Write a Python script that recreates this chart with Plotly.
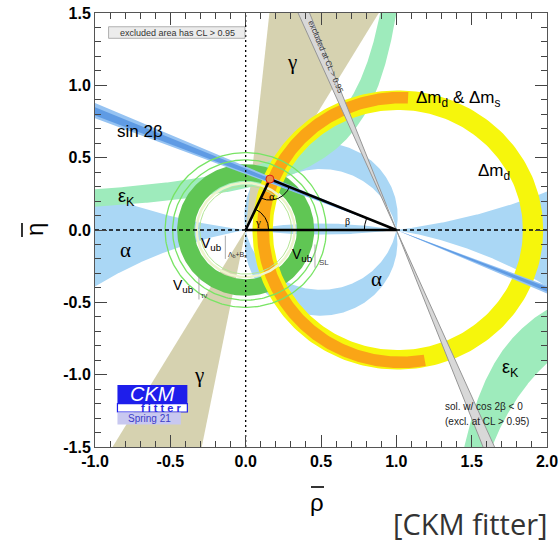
import numpy as np
import plotly.graph_objects as go

# ---------------- data ----------------
apex = [0.161, 0.352]                       # best-fit (rho, eta)
gamma_upper_deg = [59.5, 84.0]              # gamma wedge (upper solution)
gamma_lower_deg = [59.5, 79.0]              # gamma wedge (mirror solution)
sin2beta_outer_deg = [21.1, 23.7]           # beta band (light)
sin2beta_core_deg = [21.6, 23.0]            # beta band (core)
cos2beta_neg_deg = [66.5, 69.0]             # excluded cos2beta<0 solution
alpha_crescent_c = [0.095, -0.085]          # eta of circle centres (rho=0.5)
alpha_wedge_c = [3.9, -2.76]                # eta of circle centres (rho=0.5)
dmd_center = [1.01, 0.0]
dmd_radii = [0.83, 0.965]
dmds_center = [1.03, 0.0]
dmds_radii = [0.875, 0.955]
dmds_span_deg = [87.0, 280.0]
vub_radii = [0.34, 0.455]
vub_taunu_radii = [0.485, 0.535]
vub_lb_radii = [0.305, 0.325]
# eps_K hyperbola edges: eta = b + k/(a - rho)   (a, k, b)
epsk_upper_inner = [1.239, 0.358, 0.0]
epsk_upper_outer = [1.157, 0.367, 0.11]
epsk_lower_inner = [1.133, 0.4768, 0.0]
epsk_lower_outer = [1.0525, 0.872, 0.0]

x_tick_vals = [-1.0, -0.5, 0.0, 0.5, 1.0, 1.5, 2.0]
x_tick_text = ["-1.0", "-0.5", "0.0", "0.5", "1.0", "1.5", "2.0"]
y_tick_vals = [-1.5, -1.0, -0.5, 0.0, 0.5, 1.0, 1.5]
y_tick_text = ["-1.5", "-1.0", "-0.5", "0.0", "0.5", "1.0", "1.5"]

# ---------------- colours ----------------
C_ALPHA = "rgb(170,215,245)"
C_GAMMA = "rgb(214,210,176)"
C_EPSK = "rgb(158,235,188)"
C_VUB = "rgb(96,198,84)"
C_VUBLINE = "rgb(120,228,100)"
C_YELLOW = "rgb(246,246,12)"
C_ORANGE = "rgb(250,165,22)"
C_B_LIGHT = "rgb(150,195,242)"
C_B_CORE = "rgb(95,155,228)"
C_GRAY = "rgb(216,216,216)"
C_GRAYLINE = "rgb(150,150,150)"

# body margin is removed by a post-script, so the figure fills the window
OFF = 0
W, H = 558, 545
ML, MR, MT, MB = 95, 11, 13, 98
PW, PH = W - ML - MR, H - MT - MB
SX = PW / 3.0
SY = PH / 3.0


def px(xs):
    return (xs - OFF - ML) / PW


def py(ys):
    return (H - MB - (ys - OFF)) / PH


fig = go.Figure()


def arc(cx, cy, r, a0, a1, n=240):
    t = np.radians(np.linspace(a0, a1, n))
    return cx + r * np.cos(t), cy + r * np.sin(t)


def poly(x, y, color):
    fig.add_trace(go.Scatter(x=list(x), y=list(y), mode="lines", fill="toself",
                             fillcolor=color, line=dict(width=0),
                             hoverinfo="skip", showlegend=False))


def annulus(cx, cy, r0, r1, a0=0.0, a1=360.0):
    xo, yo = arc(cx, cy, r1, a0, a1)
    xi, yi = arc(cx, cy, r0, a1, a0)
    return np.concatenate([xo, xi]), np.concatenate([yo, yi])


def circ(c):
    r = np.hypot(0.5, c)
    phi = np.degrees(np.arctan2(-c, 0.5))
    return r, phi


# ---- alpha: wedges + sliver (between two large circles) ----
cA, cB = alpha_wedge_c
rA, rB = np.hypot(0.5, cA), np.hypot(0.5, cB)
rho = np.linspace(-1.1, 2.1, 600)
etaA = cA - np.sqrt(rA ** 2 - (rho - 0.5) ** 2)
etaB = cB + np.sqrt(rB ** 2 - (rho - 0.5) ** 2)
poly(np.concatenate([rho, rho[::-1]]), np.concatenate([etaA, etaB[::-1]]), C_ALPHA)

# ---- alpha: crescents around the unitarity semicircle ----
c1, c2 = alpha_crescent_c
r1, p1 = circ(c1)
r2, p2 = circ(c2)
xo, yo = arc(0.5, c1, r1, p1, 180 - p1)
xi, yi = arc(0.5, c2, r2, 180 - p2, p2)
poly(np.concatenate([xo, xi]), np.concatenate([yo, yi]), C_ALPHA)
xo, yo = arc(0.5, c2, r2, 180 - p2, 360 + p2)
xi, yi = arc(0.5, c1, r1, 360 + p1, 180 - p1)
poly(np.concatenate([xo, xi]), np.concatenate([yo, yi]), C_ALPHA)

# ---- gamma wedges ----
R = 4.0
g1, g2 = np.radians(gamma_upper_deg)
poly([0, R * np.cos(g1), R * np.cos(g2)], [0, R * np.sin(g1), R * np.sin(g2)], C_GAMMA)
g1, g2 = np.radians(gamma_lower_deg)
poly([0, -R * np.cos(g1), -R * np.cos(g2)], [0, -R * np.sin(g1), -R * np.sin(g2)], C_GAMMA)


# ---- eps_K ----
def hyp_upper(p, eta_max=1.7, rho_min=-1.1):
    a, k, b = p
    t = np.geomspace(a - rho_min, k / (eta_max - b), 400)
    return a - t, b + k / t


def hyp_lower(p, eta_min=-1.7, rho_max=2.1):
    a, k, b = p
    t = np.geomspace(k / (b - eta_min), rho_max - a, 400)
    return a + t, b - k / t


xi, yi = hyp_upper(epsk_upper_inner)
xo, yo = hyp_upper(epsk_upper_outer)
poly(np.concatenate([xi, xo[::-1]]), np.concatenate([yi, yo[::-1]]), C_EPSK)
xi, yi = hyp_lower(epsk_lower_inner)
xo, yo = hyp_lower(epsk_lower_outer)
poly(np.concatenate([xi, xo[::-1]]), np.concatenate([yi, yo[::-1]]), C_EPSK)

# ---- Vub ring ----
x, y = annulus(0, 0, vub_radii[0], vub_radii[1])
poly(x, y, C_VUB)

# ---- Delta m_d (yellow) and Delta m_d & Delta m_s (orange) ----
x, y = annulus(dmd_center[0], dmd_center[1], dmd_radii[0], dmd_radii[1])
poly(x, y, C_YELLOW)
x, y = annulus(dmds_center[0], dmds_center[1], dmds_radii[0], dmds_radii[1],
               dmds_span_deg[0], dmds_span_deg[1])
poly(x, y, C_ORANGE)


# ---- wedges through (1,0): sin2beta and excluded solution ----
def wedge10(b1, b2):
    b1, b2 = np.radians(b1), np.radians(b2)
    xs = [1, 1 - R * np.cos(b1), 1 - R * np.cos(b2), None,
          1, 1 + R * np.cos(b1), 1 + R * np.cos(b2)]
    ys = [0, R * np.sin(b1), R * np.sin(b2), None,
          0, -R * np.sin(b1), -R * np.sin(b2)]
    return xs, ys


x, y = wedge10(*sin2beta_outer_deg)
poly(x, y, C_B_LIGHT)
x, y = wedge10(*sin2beta_core_deg)
poly(x, y, C_B_CORE)
x, y = wedge10(*cos2beta_neg_deg)
poly(x, y, C_GRAY)
for b in cos2beta_neg_deg:
    br = np.radians(b)
    fig.add_trace(go.Scatter(x=[1 - R * np.cos(br), 1 + R * np.cos(br)],
                             y=[R * np.sin(br), -R * np.sin(br)], mode="lines",
                             line=dict(color=C_GRAYLINE, width=1),
                             hoverinfo="skip", showlegend=False))

# ---- thin Vub circles ----
for r in vub_taunu_radii:
    x, y = arc(0, 0, r, 0, 360)
    fig.add_trace(go.Scatter(x=x, y=y, mode="lines", line=dict(color=C_VUBLINE, width=1.3),
                             hoverinfo="skip", showlegend=False))
for r, col, w in zip(vub_lb_radii, ["rgb(180,230,150)", "rgb(238,244,205)"], [1.0, 2.5]):
    x, y = arc(0, 0, r, 0, 360)
    fig.add_trace(go.Scatter(x=x, y=y, mode="lines", line=dict(color=col, width=w),
                             hoverinfo="skip", showlegend=False))

# ---- reference dashed axes ----
fig.add_trace(go.Scatter(x=[0, 0], y=[-1.5, 1.5], mode="lines",
                         line=dict(color="black", width=1.3, dash="2px,3px"),
                         hoverinfo="skip", showlegend=False))
fig.add_trace(go.Scatter(x=[-1, 2], y=[0, 0], mode="lines",
                         line=dict(color="black", width=1.3, dash="4px,3px"),
                         hoverinfo="skip", showlegend=False))

# ---- unitarity triangle ----
ar, ae = apex
fig.add_trace(go.Scatter(x=[0, ar, 1, 0], y=[0, ae, 0, 0], mode="lines",
                         line=dict(color="black", width=2.6),
                         hoverinfo="skip", showlegend=False))


def pix_arc(cx, cy, rpx, a0, a1):
    t = np.radians(np.linspace(a0, a1, 80))
    return cx + rpx * np.cos(t) / SX, cy + rpx * np.sin(t) / SY


ang_o = np.degrees(np.arctan2(-ae * SY, -ar * SX))
ang_1 = np.degrees(np.arctan2(-ae * SY, (1 - ar) * SX))
ang_g = np.degrees(np.arctan2(ae * SY, ar * SX))
ang_b = np.degrees(np.arctan2(ae * SY, (ar - 1) * SX))
for (cx, cy, rp, a0, a1) in [(ar, ae, 21, ang_o, ang_1), (0, 0, 23, 0, ang_g), (1, 0, 32, ang_b, 180)]:
    x, y = pix_arc(cx, cy, rp, a0, a1)
    fig.add_trace(go.Scatter(x=x, y=y, mode="lines", line=dict(color="black", width=1),
                             hoverinfo="skip", showlegend=False))

fig.add_trace(go.Scatter(x=[ar], y=[ae], mode="markers",
                         marker=dict(size=8, color="rgb(240,140,60)", line=dict(color="rgb(220,30,20)", width=1)),
                         hoverinfo="skip", showlegend=False))

# ---------------- annotations ----------------
SANS = "Liberation Sans"
SERIF = "Liberation Serif"
ann = []


def txt(x, y, s, size, family=SANS, color="black", xanchor="center", **kw):
    ann.append(dict(x=x, y=y, text=s, showarrow=False, font=dict(family=family, size=size, color=color),
                    xanchor=xanchor, yanchor="middle", **kw))


txt(-0.70, 0.68, "sin 2β", 17)
txt(-0.79, 0.225, "ε<sub>K</sub>", 18)
txt(-0.80, -0.14, "α", 21, SERIF)
txt(0.305, 1.16, "γ", 21, SERIF)
txt(-0.31, -1.00, "γ", 21, SERIF)
txt(1.41, 0.905, "Δm<sub>d</sub> &amp; Δm<sub>s</sub>", 17)
txt(1.65, 0.40, "Δm<sub>d</sub>", 17)
txt(0.87, -0.34, "α", 21, SERIF)
txt(1.76, -0.96, "ε<sub>K</sub>", 18)
txt(1.31, -1.22, "sol. w/ cos 2β < 0", 10, color="#222", xanchor="left")
txt(1.31, -1.325, "(excl. at CL > 0.95)", 10, color="#222", xanchor="left")
txt(0.175, 0.235, "α", 11, SERIF)
txt(0.08, 0.055, "γ", 11, SERIF)
txt(0.675, 0.057, "β", 10, SERIF)
txt(-0.225, -0.10, "V<sub>ub</sub>", 14)
txt(-0.055, -0.175, "Λ<sub>b</sub>+B<sub>s</sub>", 7, color="#333")
txt(0.38, -0.17, "V<sub>ub</sub>", 14)
txt(0.52, -0.225, "SL", 8, color="#444")
txt(-0.41, -0.385, "V<sub>ub</sub>", 14)
txt(-0.27, -0.45, "τν", 7, color="#444")
txt(0.53, 1.20, "excluded at CL > 0.95", 8, color="#333", textangle=67)
txt(-0.455, 1.365, "excluded area has CL > 0.95", 9, color="#333")

# logo texts
txt(-0.62, -1.133, "<i>CKM</i>", 20, color="white")
txt(-0.56, -1.229, "<b>f i t t e r</b>", 11, color="rgb(40,40,230)")
txt(-0.64, -1.303, "Spring 21", 10, color="rgb(60,60,200)")

# axis titles (letters; macron bars drawn as shapes) and source
ann.append(dict(x=px(317), y=py(502), xref="paper", yref="paper", text="ρ", showarrow=False,
                xanchor="center", yanchor="middle", font=dict(family=SANS, size=24, color="black")))
ann.append(dict(x=px(34), y=py(230), xref="paper", yref="paper", text="η", showarrow=False,
                xanchor="center", yanchor="middle", textangle=-90,
                font=dict(family=SANS, size=24, color="black")))
ann.append(dict(x=px(470), y=py(523), xref="paper", yref="paper", text="[CKM fitter]", showarrow=False,
                xanchor="center", yanchor="middle", font=dict(family="Open Sans", size=29, color="#333")))

shapes = [
    # macron bars of the axis titles
    dict(type="line", xref="paper", yref="paper", x0=px(311), x1=px(324), y0=py(487), y1=py(487),
         line=dict(color="black", width=1.6)),
    dict(type="line", xref="paper", yref="paper", x0=px(22), x1=px(22), y0=py(223), y1=py(237),
         line=dict(color="black", width=1.6)),
    # separators in V_ub labels
    dict(type="line", x0=-0.135, x1=-0.135, y0=-0.04, y1=-0.20, line=dict(color="rgb(150,150,150)", width=0.8)),
    dict(type="line", x0=0.46, x1=0.46, y0=-0.10, y1=-0.26, line=dict(color="rgb(150,150,150)", width=0.8)),
    dict(type="line", x0=-0.31, x1=-0.31, y0=-0.32, y1=-0.48, line=dict(color="rgb(150,150,150)", width=0.8)),
    # legend box and logo
    dict(type="rect", x0=-0.91, x1=-0.005, y0=1.325, y1=1.405, fillcolor="rgb(236,236,236)",
         line=dict(color="rgb(160,160,160)", width=0.8), layer="above"),
    dict(type="rect", x0=-0.851, x1=-0.387, y0=-1.195, y1=-1.071, fillcolor="rgb(30,30,235)",
         line=dict(width=0), layer="above"),
    dict(type="rect", x0=-0.851, x1=-0.387, y0=-1.258, y1=-1.200, fillcolor="white",
         line=dict(color="rgb(30,30,235)", width=1.2), layer="above"),
    dict(type="rect", x0=-0.851, x1=-0.43, y0=-1.345, y1=-1.262, fillcolor="rgb(200,200,240)",
         line=dict(width=0), layer="above"),
]

fig.update_layout(annotations=ann, shapes=shapes)

axis_common = dict(ticks="inside", ticklen=12, tickwidth=1, tickcolor="#444", mirror="allticks",
                   showline=True, linecolor="#555", linewidth=1, showgrid=False, zeroline=False,
                   automargin=False, ticklabeloverflow="allow",
                   tickfont=dict(family=SANS, size=16, color="black", weight="bold"),
                   minor=dict(tickmode="linear", tick0=0, dtick=0.1, ticks="inside", ticklen=6,
                              tickcolor="#444", showgrid=False))
fig.update_xaxes(range=[-1, 2], tickmode="array", tickvals=x_tick_vals, ticktext=x_tick_text, **axis_common)
fig.update_yaxes(range=[-1.5, 1.5], tickmode="array", tickvals=y_tick_vals, ticktext=y_tick_text, **axis_common)
fig.update_layout(width=W, height=H, margin=dict(l=ML, r=MR, t=MT, b=MB, autoexpand=False),
                  paper_bgcolor="white", plot_bgcolor="white", showlegend=False)
fig.write_html("out.html", config={"displayModeBar": False},
               post_script="document.body.style.margin='0px';document.body.style.overflow='hidden';")
